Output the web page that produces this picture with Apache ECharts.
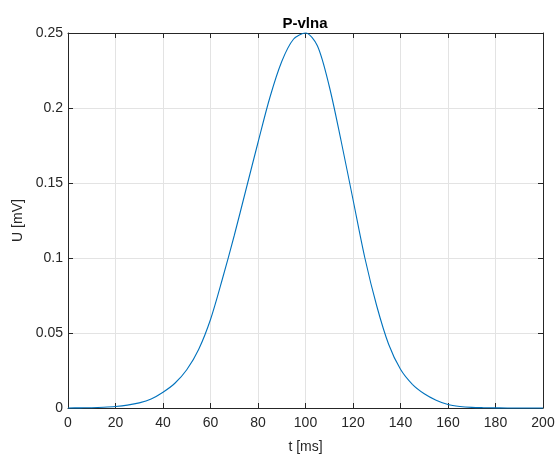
<!DOCTYPE html>
<html>
<head>
<meta charset="utf-8">
<script src="https://cdn.jsdelivr.net/npm/echarts@6/dist/echarts.min.js"></script>
<style>html,body{margin:0;padding:0;background:#fff;}#c{width:556px;height:454px;}</style>
</head>
<body>
<div id="c"></div>
<script>
const titleText = "P-vlna";
const xName = "t [ms]";
const yName = "U [mV]";
const tValues = [0,5,10,15,20,25,30,35,40,45,50,55,60,65,70,75,80,85,90,95,100,105,110,115,120,125,130,135,140,145,150,155,160,165,170,175,180,185,190,195,200];
const uValues = [0,0.0001,0.0002,0.0005,0.001,0.0019,0.0034,0.006,0.0105,0.0165,0.0255,0.039,0.059,0.086,0.115,0.146,0.177,0.207,0.231,0.246,0.25,0.2415,0.2145,0.178,0.139,0.100,0.068,0.0425,0.0258,0.0158,0.0095,0.0052,0.0023,0.001,0.0004,0.0002,0.0001,0,0,0,0];
const xTicks = {min:0, max:200, interval:20};
const yTicks = {min:0, max:0.25, interval:0.05};

const data = tValues.map((t,i)=>[t,uValues[i]]);
const axisCol = '#262626';
const font = 'Liberation Sans, Arial, Helvetica, sans-serif';
const tick = {show:true,inside:true,length:5,lineStyle:{color:axisCol,width:1}};
const line = {show:true,onZero:false,lineStyle:{color:axisCol,width:1}};
const chart = echarts.init(document.getElementById('c'), null, {renderer:'canvas'});
chart.setOption({
  animation:false,
  backgroundColor:'#fff',
  title:{text:titleText,left:300,top:11,textAlign:'center',textStyle:{fontFamily:font,fontSize:15,fontWeight:'bold',color:'#000'}},
  grid:{left:68,right:13,top:33,bottom:46,containLabel:false,outerBoundsMode:'none'},
  xAxis:[{
    type:'value',min:xTicks.min,max:xTicks.max,interval:xTicks.interval,position:'bottom',
    name:xName,nameLocation:'middle',nameGap:32,
    nameTextStyle:{fontFamily:font,fontSize:14,color:axisCol},
    axisLine:line, axisTick:tick,
    axisLabel:{fontFamily:font,fontSize:14,color:axisCol,margin:8},
    splitLine:{show:true,lineStyle:{color:'#e3e3e3',width:1}}
  },{
    type:'value',min:xTicks.min,max:xTicks.max,interval:xTicks.interval,position:'top',
    axisLine:line, axisTick:tick,
    axisLabel:{show:false},splitLine:{show:false}
  }],
  yAxis:[{
    type:'value',min:yTicks.min,max:yTicks.max,interval:yTicks.interval,position:'left',
    name:yName,nameLocation:'middle',nameGap:33,nameRotate:90,
    nameTextStyle:{fontFamily:font,fontSize:14,color:axisCol},
    axisLine:line, axisTick:tick,
    axisLabel:{fontFamily:font,fontSize:14,color:axisCol,margin:5},
    splitLine:{show:true,lineStyle:{color:'#e3e3e3',width:1}}
  },{
    type:'value',min:yTicks.min,max:yTicks.max,interval:yTicks.interval,position:'right',
    axisLine:line, axisTick:tick,
    axisLabel:{show:false},splitLine:{show:false}
  }],
  series:[{
    type:'line',data:data,xAxisIndex:0,yAxisIndex:0,
    showSymbol:false,smooth:0.3,
    lineStyle:{color:'#0072BD',width:1.1},
    clip:false
  }]
});
</script>
</body>
</html>
